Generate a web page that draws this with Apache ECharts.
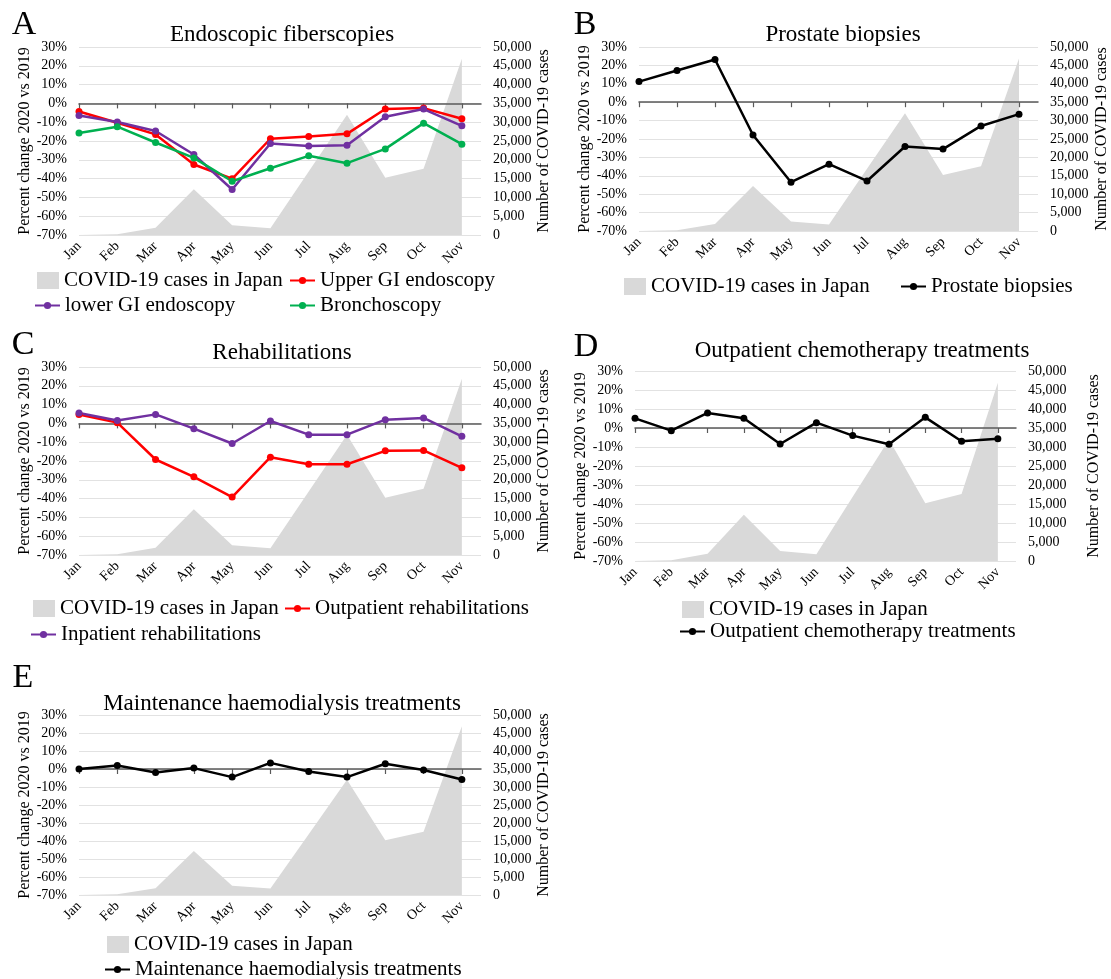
<!DOCTYPE html>
<html>
<head>
<meta charset="utf-8">
<script src="https://cdn.jsdelivr.net/npm/echarts@6/dist/echarts.min.js"></script>
<style>
  html, body { margin: 0; padding: 0; background: #fff; }
  #chart { width: 1111px; height: 979px; }
</style>
</head>
<body>
<div id="chart"></div>
<script>
// Month categories (2020)
const months = ['Jan', 'Feb', 'Mar', 'Apr', 'May', 'Jun', 'Jul', 'Aug', 'Sep', 'Oct', 'Nov'];

// Monthly COVID-19 cases in Japan
const covidCases = [15, 230, 1900, 12200, 2600, 1800, 16900, 32000, 15200, 17600, 46900];

// Percent change 2020 vs 2019
const upperGI       = [-4.3, -10.3, -16.5, -32.5, -40.1, -18.8, -17.6, -16.2, -3.0, -2.5, -8.2];
const lowerGI       = [-6.4, -9.9, -14.7, -27.2, -45.8, -21.3, -22.6, -22.2, -7.1, -3.0, -11.9];
const bronchoscopy  = [-15.8, -12.4, -20.8, -29.0, -41.4, -34.5, -27.9, -31.8, -24.2, -10.5, -21.7];
const prostate      = [11.2, 17.2, 23.2, -17.8, -43.5, -33.7, -42.8, -24.1, -25.5, -12.9, -6.5];
const outpatientRehab = [4.7, 0.4, -19.2, -28.4, -39.2, -18.0, -21.7, -21.7, -14.6, -14.4, -23.6];
const inpatientRehab  = [5.5, 1.5, 4.8, -2.8, -10.7, 1.3, -6.0, -6.0, 2.0, 2.9, -6.9];
const chemotherapy  = [5.1, -1.4, 7.9, 5.1, -8.4, 2.8, -4.0, -8.6, 5.6, -7.0, -5.6];
const haemodialysis = [0.0, 1.9, -1.9, 0.5, -4.5, 3.4, -1.4, -4.5, 2.9, -0.6, -5.8];

// Axis settings
const percentMin = -70, percentMax = 30, percentStep = 10;
const casesMin = 0, casesMax = 50000, casesStep = 5000;

const COVID = 'COVID-19 cases in Japan';
const FONT = '"Liberation Serif", "Times New Roman", serif';
const RED = '#ff0000', PURPLE = '#7030a0', GREEN = '#00b050', BLACK = '#000000';
const AREA = '#d9d9d9';

const panels = [
  {
    letter: 'A', letterPos: [24, 25],
    title: 'Endoscopic fiberscopies', titlePos: [282, 35],
    grid: { left: 79, top: 47, width: 402, height: 188 },
    gapL: 45, gapR: 55,
    lines: [['Upper GI endoscopy', upperGI, RED], ['lower GI endoscopy', lowerGI, PURPLE], ['Bronchoscopy', bronchoscopy, GREEN]],
    legend: [[COVID, 'rect', 37, 281], ['Upper GI endoscopy', 'line', 289, 281],
             ['lower GI endoscopy', 'line', 34, 306], ['Bronchoscopy', 'line', 289, 306]]
  },
  {
    letter: 'B', letterPos: [585, 25],
    title: 'Prostate biopsies', titlePos: [843, 35],
    grid: { left: 639, top: 47, width: 400, height: 184 },
    gapL: 46, gapR: 56,
    lines: [['Prostate biopsies', prostate, BLACK]],
    legend: [[COVID, 'rect', 624, 287], ['Prostate biopsies', 'line', 900, 287]]
  },
  {
    letter: 'C', letterPos: [23, 345],
    title: 'Rehabilitations', titlePos: [282, 353],
    grid: { left: 79, top: 367, width: 402, height: 188 },
    gapL: 45, gapR: 55,
    lines: [['Outpatient rehabilitations', outpatientRehab, RED], ['Inpatient rehabilitations', inpatientRehab, PURPLE]],
    legend: [[COVID, 'rect', 33, 609], ['Outpatient rehabilitations', 'line', 284, 609],
             ['Inpatient rehabilitations', 'line', 30, 635]]
  },
  {
    letter: 'D', letterPos: [586, 347],
    title: 'Outpatient chemotherapy treatments', titlePos: [862, 351],
    grid: { left: 635, top: 371, width: 381, height: 190 },
    gapL: 41, gapR: 70,
    lines: [['Outpatient chemotherapy treatments', chemotherapy, BLACK]],
    legend: [[COVID, 'rect', 682, 610], ['Outpatient chemotherapy treatments', 'line', 679, 632]]
  },
  {
    letter: 'E', letterPos: [23, 678],
    title: 'Maintenance haemodialysis treatments', titlePos: [282, 704],
    grid: { left: 79, top: 715, width: 402, height: 180 },
    gapL: 45, gapR: 55,
    lines: [['Maintenance haemodialysis treatments', haemodialysis, BLACK]],
    legend: [[COVID, 'rect', 107, 945], ['Maintenance haemodialysis treatments', 'line', 104, 970]]
  }
];

const monthIdx = months.map((m, k) => k);
const asPoints = arr => arr.map((v, k) => [k, v]);

const option = {
  animation: false,
  backgroundColor: '#fff',
  textStyle: { fontFamily: FONT, color: '#000' },
  grid: [], xAxis: [], yAxis: [], series: [], legend: [], graphic: []
};

panels.forEach((p, i) => {
  option.grid.push(Object.assign({ containLabel: false }, p.grid));

  // month labels along the bottom edge
  option.xAxis.push({
    gridIndex: i, type: 'value', min: 0, max: months.length - 0.5, interval: 1,
    position: 'bottom',
    axisLine: { show: false, onZero: false },
    axisTick: { show: false },
    splitLine: { show: false },
    axisLabel: {
      customValues: monthIdx,
      formatter: v => (Number.isInteger(v) ? months[v] || '' : ''),
      rotate: 45, margin: 9, fontSize: 14, color: '#000', fontFamily: FONT
    }
  });
  // zero line with month ticks
  option.xAxis.push({
    gridIndex: i, type: 'value', min: 0, max: months.length - 0.5, interval: 1,
    position: 'bottom', z: 2,
    axisLine: { show: true, onZero: true, onZeroAxisIndex: 2 * i, lineStyle: { color: '#595959', width: 1.5 } },
    axisTick: { show: true, customValues: monthIdx, length: 5, lineStyle: { color: '#595959', width: 1.2 } },
    splitLine: { show: false },
    axisLabel: { show: false }
  });

  option.yAxis.push({
    gridIndex: i, type: 'value', min: percentMin, max: percentMax, interval: percentStep,
    position: 'left',
    axisLine: { show: false, onZero: false },
    axisTick: { show: false },
    splitLine: { show: true, lineStyle: { color: '#e2e2e2', width: 1 } },
    axisLabel: { formatter: '{value}%', fontSize: 14, margin: 12, color: '#000', fontFamily: FONT },
    name: 'Percent change 2020 vs 2019', nameLocation: 'middle', nameGap: p.gapL,
    nameTextStyle: { fontSize: 16, color: '#000', fontFamily: FONT }
  });
  option.yAxis.push({
    gridIndex: i, type: 'value', min: casesMin, max: casesMax, interval: casesStep,
    position: 'right',
    axisLine: { show: false, onZero: false },
    axisTick: { show: false },
    splitLine: { show: false },
    axisLabel: { formatter: v => v.toLocaleString('en-US'), fontSize: 14, margin: 12, color: '#000', fontFamily: FONT },
    name: 'Number of COVID-19 cases', nameLocation: 'middle', nameGap: p.gapR,
    nameTextStyle: { fontSize: 16, color: '#000', fontFamily: FONT }
  });

  // COVID-19 case area on the right axis
  option.series.push({
    type: 'line', name: COVID, xAxisIndex: 2 * i, yAxisIndex: 2 * i + 1,
    data: asPoints(covidCases), symbol: 'none', showSymbol: false,
    color: AREA, lineStyle: { width: 0, color: AREA },
    areaStyle: { color: AREA, opacity: 1 }, z: 1, silent: true
  });

  p.lines.forEach(([name, values, color]) => {
    option.series.push({
      type: 'line', name, xAxisIndex: 2 * i, yAxisIndex: 2 * i,
      data: asPoints(values), symbol: 'circle', symbolSize: 7,
      color, lineStyle: { width: 2.5, color }, itemStyle: { color },
      z: 3, silent: true
    });
  });

  p.legend.forEach(([name, kind, left, cy]) => {
    const isRect = kind === 'rect';
    const lg = {
      data: [isRect ? { name, icon: 'rect' } : name],
      left, top: cy - 11, padding: 0, itemGap: 0,
      itemWidth: isRect ? 22 : 25, itemHeight: isRect ? 17 : 9,
      selectedMode: false,
      textStyle: { fontSize: 21, color: '#000', fontFamily: FONT }
    };
    if (isRect) lg.itemStyle = { color: AREA, borderWidth: 0 };
    option.legend.push(lg);
  });

  option.graphic.push({
    type: 'text', x: p.titlePos[0], y: p.titlePos[1], silent: true,
    style: { text: p.title, font: '23px ' + FONT, fill: '#000',
             align: 'center', verticalAlign: 'middle', textAlign: 'center', textVerticalAlign: 'middle' }
  });
  option.graphic.push({
    type: 'text', x: p.letterPos[0], y: p.letterPos[1], silent: true,
    style: { text: p.letter, font: '34px ' + FONT, fill: '#000',
             align: 'center', verticalAlign: 'middle', textAlign: 'center', textVerticalAlign: 'middle' }
  });
});

const chart = echarts.init(document.getElementById('chart'), null, { renderer: 'canvas' });
chart.setOption(option);
</script>
</body>
</html>
